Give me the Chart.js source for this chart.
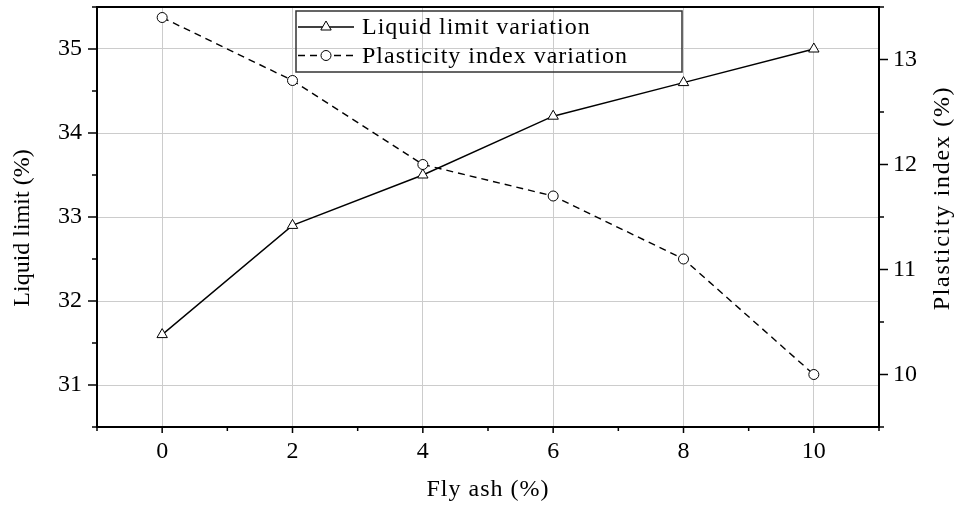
<!DOCTYPE html>
<html>
<head>
<meta charset="utf-8">
<script src="https://cdn.jsdelivr.net/npm/chart.js@4.4.1/dist/chart.umd.min.js"></script>
<style>
  body { margin: 0; background: #fff; }
  #wrap { width: 961px; height: 508px; }
</style>
</head>
<body>
<div id="wrap"><canvas id="chart"></canvas></div>
<script>
// Data
const flyAsh = [0, 2, 4, 6, 8, 10];
const liquidLimit = [31.6, 32.9, 33.5, 34.2, 34.6, 35.0];
const plasticityIndex = [13.4, 12.8, 12.0, 11.7, 11.1, 10.0];

// Tick labels
const xTicks = [0, 2, 4, 6, 8, 10];
const xMinorTicks = [-1, 1, 3, 5, 7, 9, 11];
const leftTicks = [31, 32, 33, 34, 35];
const leftMinorTicks = [30.5, 31.5, 32.5, 33.5, 34.5, 35.5];
const rightTicks = [10, 11, 12, 13];
const rightMinorTicks = [9.5, 10.5, 11.5, 12.5, 13.5];

const seriesNames = ['Liquid limit variation', 'Plasticity index variation'];
const xTitle = 'Fly ash (%)';
const leftTitle = 'Liquid limit (%)';
const rightTitle = 'Plasticity index (%)';

const FONT = '"Liberation Serif", "Times New Roman", serif';

// helper for text with its own letter spacing
function drawText(ctx, text, x, y, angle, spacing, align) {
    ctx.save();
    ctx.font = '24px ' + FONT;
    ctx.letterSpacing = spacing + 'px';
    ctx.fillStyle = '#000';
    ctx.textAlign = align || 'center';
    ctx.textBaseline = 'alphabetic';
    ctx.translate(x, y);
    ctx.rotate(angle);
    ctx.fillText(text, 0, 0);
    ctx.restore();
}

// Frame, outward ticks, axis titles and the boxed legend
const framePlugin = {
    id: 'frame',
    afterDraw(chart) {
        const ctx = chart.ctx;
        const a = chart.chartArea;
        const sx = chart.scales.x, sy = chart.scales.y, sy1 = chart.scales.y1;
        ctx.save();
        ctx.strokeStyle = '#000';
        ctx.lineWidth = 2;
        ctx.strokeRect(a.left, a.top, a.right - a.left, a.bottom - a.top);

        ctx.lineWidth = 1.5;
        const tick = (x1, y1, x2, y2) => { ctx.beginPath(); ctx.moveTo(x1, y1); ctx.lineTo(x2, y2); ctx.stroke(); };
        xTicks.forEach(v => { const p = sx.getPixelForValue(v); tick(p, a.bottom, p, a.bottom + 6); });
        xMinorTicks.forEach(v => { const p = sx.getPixelForValue(v); tick(p, a.bottom, p, a.bottom + 4); });
        leftTicks.forEach(v => { const p = sy.getPixelForValue(v); tick(a.left, p, a.left - 9, p); });
        leftMinorTicks.forEach(v => { const p = sy.getPixelForValue(v); tick(a.left, p, a.left - 5, p); });
        rightTicks.forEach(v => { const p = sy1.getPixelForValue(v); tick(a.right, p, a.right + 9, p); });
        rightMinorTicks.forEach(v => { const p = sy1.getPixelForValue(v); tick(a.right, p, a.right + 5, p); });
        ctx.restore();

        // axis titles
        drawText(ctx, xTitle, (a.left + a.right) / 2, 496, 0, 1);
        drawText(ctx, leftTitle, 29, 228, -Math.PI / 2, 0);
        drawText(ctx, rightTitle, 949, 198, -Math.PI / 2, 1.7);

        // legend box
        ctx.save();
        const bx = a.left + 199, by = a.top + 4, bw = 386, bh = 61;
        ctx.strokeStyle = '#333';
        ctx.lineWidth = 1.5;
        ctx.strokeRect(bx, by, bw, bh);
        ctx.font = '24px ' + FONT;
        ctx.letterSpacing = '1px';
        ctx.textAlign = 'left';
        ctx.textBaseline = 'middle';
        chart.data.datasets.forEach((ds, i) => {
            const ry = by + 16 + i * 28.5;
            ctx.strokeStyle = '#000';
            ctx.lineWidth = ds.borderWidth;
            ctx.setLineDash(ds.borderDash || []);
            ctx.beginPath();
            ctx.moveTo(bx + 2, ry);
            ctx.lineTo(bx + 58, ry);
            ctx.stroke();
            ctx.setLineDash([]);
            ctx.fillStyle = '#fff';
            ctx.lineWidth = 1;
            Chart.helpers.drawPoint(ctx, { pointStyle: ds.pointStyle, radius: ds.pointRadius, rotation: 0, borderWidth: 1 }, bx + 30, ry);
            ctx.fillStyle = '#000';
            ctx.fillText(ds.label, bx + 66, ry + 1);
        });
        ctx.restore();
    }
};

const tickFont = { family: FONT, size: 24 };

new Chart(document.getElementById('chart'), {
    type: 'line',
    data: {
        datasets: [{
            label: seriesNames[0],
            data: flyAsh.map((x, i) => ({ x: x, y: liquidLimit[i] })),
            yAxisID: 'y',
            borderColor: '#000',
            borderWidth: 1.4,
            pointStyle: 'triangle',
            pointRadius: 6,
            pointBorderWidth: 1,
            pointBackgroundColor: '#fff',
            pointBorderColor: '#000',
            tension: 0
        }, {
            label: seriesNames[1],
            data: flyAsh.map((x, i) => ({ x: x, y: plasticityIndex[i] })),
            yAxisID: 'y1',
            borderColor: '#000',
            borderWidth: 1.4,
            borderDash: [7, 5],
            pointStyle: 'circle',
            pointRadius: 5,
            pointBorderWidth: 1,
            pointBackgroundColor: '#fff',
            pointBorderColor: '#000',
            tension: 0
        }]
    },
    options: {
        responsive: true,
        maintainAspectRatio: false,
        animation: false,
        layout: { padding: { top: 4, left: 0, right: 0, bottom: 0 } },
        plugins: {
            legend: { display: false },
            tooltip: { enabled: false }
        },
        scales: {
            x: {
                type: 'linear',
                min: -1,
                max: 11,
                afterBuildTicks: s => { s.ticks = xTicks.map(v => ({ value: v })); },
                afterFit: s => { s.height = 81; s.paddingLeft = 0; s.paddingRight = 0; },
                grid: { color: '#cccccc', lineWidth: 1, drawTicks: false },
                border: { display: false },
                ticks: { color: '#000', font: tickFont, padding: 10 }
            },
            y: {
                position: 'left',
                min: 30.5,
                max: 35.5,
                afterBuildTicks: s => { s.ticks = leftTicks.map(v => ({ value: v })); },
                afterFit: s => { s.width = 97; s.paddingTop = 0; s.paddingBottom = 0; },
                grid: { color: '#cccccc', lineWidth: 1, drawTicks: false },
                border: { display: false },
                ticks: { color: '#000', font: tickFont, padding: 15 }
            },
            y1: {
                position: 'right',
                min: 9.5,
                max: 13.5,
                afterBuildTicks: s => { s.ticks = rightTicks.map(v => ({ value: v })); },
                afterFit: s => { s.width = 82; s.paddingTop = 0; s.paddingBottom = 0; },
                grid: { display: false, drawTicks: false },
                border: { display: false },
                ticks: { color: '#000', font: tickFont, padding: 14 }
            }
        }
    },
    plugins: [framePlugin]
});
</script>
</body>
</html>
